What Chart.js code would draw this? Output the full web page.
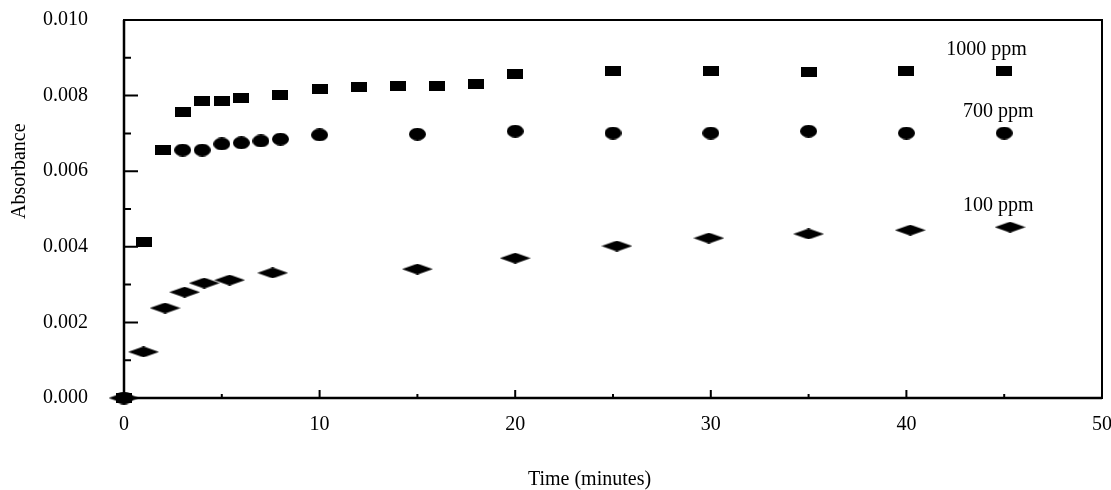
<!DOCTYPE html>
<html>
<head>
<meta charset="utf-8">
<script src="https://cdn.jsdelivr.net/npm/chart.js@4.4.0/dist/chart.umd.min.js"></script>
<style>
  html, body { margin: 0; padding: 0; background: #fff; }
  #wrap { width: 1111px; height: 490px; }
</style>
</head>
<body>
<div id="wrap"><canvas id="absChart"></canvas></div>
<script>
////////////////////////////////////
////////////// DATA ////////////////
////////////////////////////////////

const seriesNames = ['1000 ppm', '700 ppm', '100 ppm'];

// time (minutes) / absorbance per concentration
const time1000 = [0, 1, 2, 3, 4, 5, 6, 8, 10, 12, 14, 16, 18, 20, 25, 30, 35, 40, 45];
const abs1000 = [0, 0.00413, 0.00656, 0.00757, 0.00786, 0.00786, 0.00794, 0.00802, 0.00817, 0.00822,
  0.00826, 0.00826, 0.0083, 0.00857, 0.00865, 0.00865, 0.00862, 0.00865, 0.00865];

const time700 = [0, 3, 4, 5, 6, 7, 8, 10, 15, 20, 25, 30, 35, 40, 45];
const abs700 = [0, 0.00656, 0.00656, 0.00672, 0.00675, 0.0068, 0.00685, 0.00696, 0.00698, 0.00706,
  0.00701, 0.00701, 0.00706, 0.00701, 0.00701];

const time100 = [0, 1, 2.1, 3.1, 4.1, 5.4, 7.6, 15, 20, 25.2, 29.9, 35, 40.2, 45.3];
const abs100 = [0, 0.00122, 0.00238, 0.0028, 0.00304, 0.00312, 0.00331, 0.00341, 0.0037, 0.00402,
  0.00423, 0.00434, 0.00444, 0.00452];

const xTicks = [0, 10, 20, 30, 40, 50];
const yTicks = [0, 0.002, 0.004, 0.006, 0.008, 0.01];

////////////////////////////////////
///////////// HELPERS //////////////
////////////////////////////////////

const serif = '"Liberation Serif", "Times New Roman", serif';

function toPoints(xs, ys) {
  return xs.map((x, i) => {
    return { x: x, y: ys[i] };
  });
}

// stretched marker shapes, drawn once on small canvases
function marker(kind, w, h) {
  const c = document.createElement('canvas');
  c.width = w;
  c.height = h;
  const g = c.getContext('2d');
  g.fillStyle = '#000';
  g.beginPath();
  if (kind === 'rect') {
    g.rect(0, 0, w, h);
  } else if (kind === 'ellipse') {
    g.ellipse(w / 2, h / 2, w / 2, h / 2, 0, 0, Math.PI * 2);
  } else {
    g.moveTo(0, h / 2);
    g.lineTo(w / 2, 0);
    g.lineTo(w, h / 2);
    g.lineTo(w / 2, h);
    g.closePath();
  }
  g.fill();
  return c;
}

// where the series names sit, in data units
const notes = [
  { text: seriesNames[0], x: 44.1, y: 0.00907 },
  { text: seriesNames[1], x: 44.7, y: 0.00743 },
  { text: seriesNames[2], x: 44.7, y: 0.00495 },
];

// box + inward tick marks + text
const frameTicks = {
  id: 'frameTicks',
  beforeDatasetsDraw(chart) {
    const { ctx, chartArea: a, scales } = chart;
    const x = scales.x;
    const y = scales.y;
    ctx.save();
    ctx.strokeStyle = '#000';
    ctx.lineWidth = 2;
    ctx.strokeRect(a.left, a.top, a.right - a.left, a.bottom - a.top);
    ctx.lineWidth = 2.5;
    ctx.beginPath();
    ctx.moveTo(a.left, a.top);
    ctx.lineTo(a.left, a.bottom);
    ctx.lineTo(a.right, a.bottom);
    ctx.stroke();

    ctx.lineWidth = 2;
    ctx.beginPath();
    for (let i = 1; i < 10; i++) {
      const py = y.getPixelForValue(i * 0.001);
      ctx.moveTo(a.left, py);
      ctx.lineTo(a.left + (i % 2 === 0 ? 14 : 7), py);
    }
    for (let i = 1; i < 10; i++) {
      const px = x.getPixelForValue(i * 5);
      ctx.moveTo(px, a.bottom);
      ctx.lineTo(px, a.bottom - (i % 2 === 0 ? 8 : 4));
    }
    ctx.stroke();
    ctx.restore();
  },
  afterDraw(chart) {
    const { ctx, chartArea: a, scales } = chart;
    const x = scales.x;
    const y = scales.y;
    ctx.save();
    ctx.fillStyle = '#000';
    ctx.font = '20px ' + serif;
    ctx.textAlign = 'center';
    ctx.textBaseline = 'alphabetic';
    notes.forEach((n) => {
      ctx.fillText(n.text, x.getPixelForValue(n.x), y.getPixelForValue(n.y));
    });

    ctx.font = '20px ' + serif;
    ctx.fillText('Time (minutes)', x.getPixelForValue(23.8), a.bottom + 87);

    ctx.translate(20, y.getPixelForValue(0.006));
    ctx.rotate(-Math.PI / 2);
    ctx.textBaseline = 'middle';
    ctx.fillText('Absorbance', 0, 0);
    ctx.restore();
  },
};

function noPad(scale) {
  scale.paddingTop = 0;
  scale.paddingBottom = 0;
  scale.paddingLeft = 0;
  scale.paddingRight = 0;
}

////////////////////////////////////
////////////// CHART ///////////////
////////////////////////////////////

function absorbanceChart() {
  const ctx = document.getElementById('absChart');

  new Chart(ctx, {
    type: 'scatter',
    data: {
      datasets: [
        {
          label: seriesNames[0],
          data: toPoints(time1000, abs1000),
          pointStyle: marker('rect', 16, 10),
          backgroundColor: '#000',
          borderColor: '#000',
          clip: false,
        },
        {
          label: seriesNames[1],
          data: toPoints(time700, abs700),
          pointStyle: marker('ellipse', 17, 13),
          backgroundColor: '#000',
          borderColor: '#000',
          clip: false,
        },
        {
          label: seriesNames[2],
          data: toPoints(time100, abs100),
          pointStyle: marker('diamond', 31, 11),
          backgroundColor: '#000',
          borderColor: '#000',
          clip: false,
        },
      ],
    },
    options: {
      responsive: true,
      maintainAspectRatio: false,
      animation: false,
      layout: {
        padding: { top: 20, right: 9, left: 0, bottom: 0 },
      },
      plugins: {
        legend: { display: false },
        tooltip: { enabled: false },
      },
      scales: {
        x: {
          type: 'linear',
          min: 0,
          max: 50,
          grid: { display: false, drawTicks: false },
          border: { display: false },
          afterFit: (scale) => {
            scale.height = 92;
            noPad(scale);
          },
          afterBuildTicks: (scale) => {
            scale.ticks = xTicks.map((v) => ({ value: v }));
          },
          ticks: {
            padding: 15,
            color: '#000',
            font: { family: serif, size: 20 },
            maxRotation: 0,
          },
        },
        y: {
          min: 0,
          max: 0.01,
          grid: { display: false, drawTicks: false },
          border: { display: false },
          afterFit: (scale) => {
            scale.width = 124;
            noPad(scale);
          },
          afterBuildTicks: (scale) => {
            scale.ticks = yTicks.map((v) => ({ value: v }));
          },
          ticks: {
            padding: 36,
            color: '#000',
            font: { family: serif, size: 20 },
            callback: (v) => Number(v).toFixed(3),
          },
        },
      },
    },
    plugins: [frameTicks],
  });
}

absorbanceChart();
</script>
</body>
</html>
